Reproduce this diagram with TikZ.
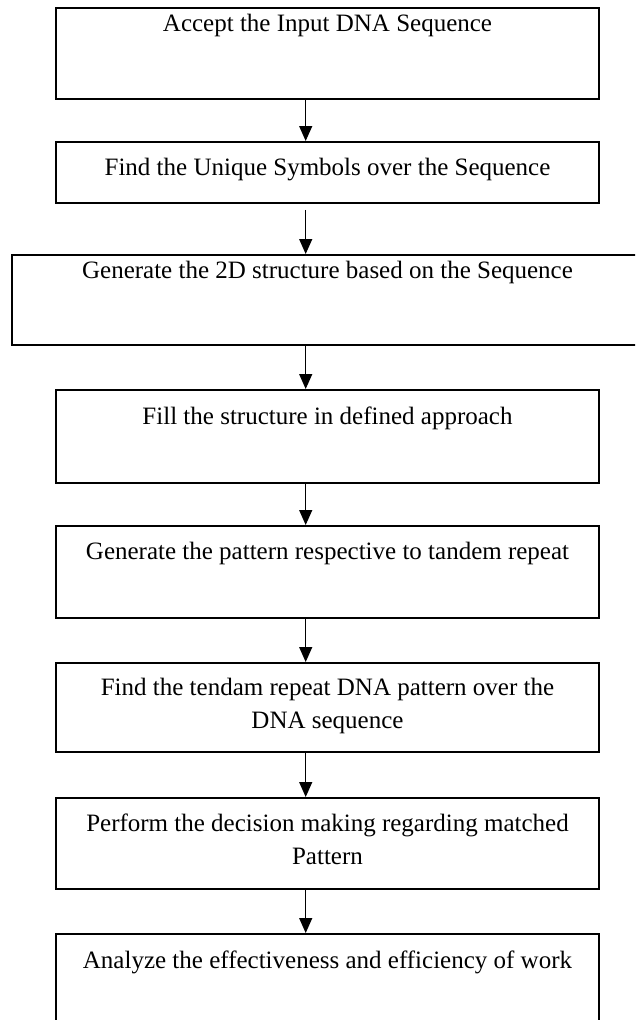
\documentclass[tikz,border=0pt]{standalone}
\usepackage{fontspec}
\setmainfont{Liberation Serif}
\usetikzlibrary{arrows.meta}
\begin{document}
\begin{tikzpicture}[x=1pt, y=-1pt,
  stepbox/.style={draw=black, line width=1.8pt, fill=none, inner sep=0pt, anchor=north},
  steptext/.style={font=\fontsize{25}{33}\selectfont, align=center, inner sep=0pt, anchor=base},
  flow/.style={line width=1.2pt, -{Triangle[length=15pt, width=13pt]}}]
  \useasboundingbox (0,0) rectangle (635,1020);
  \clip (0,0) rectangle (635,1020);

  % process boxes
  \node[stepbox, minimum width=543pt, minimum height=91pt] (b1) at (327.5,7) {};
  \node[stepbox, minimum width=543pt, minimum height=61pt] (b2) at (327.5,141) {};
  \node[stepbox, minimum width=631pt, minimum height=90pt] (b3) at (327.5,254) {};
  \node[stepbox, minimum width=543pt, minimum height=93pt] (b4) at (327.5,389) {};
  \node[stepbox, minimum width=543pt, minimum height=92pt] (b5) at (327.5,525) {};
  \node[stepbox, minimum width=543pt, minimum height=89pt] (b6) at (327.5,662) {};
  \node[stepbox, minimum width=543pt, minimum height=91pt] (b7) at (327.5,797) {};
  \node[stepbox, minimum width=543pt, minimum height=110pt] (b8) at (327.5,933) {};

  % box captions (anchored on the baseline of their last line)
  \node[steptext] (t1) at ([yshift=-24pt]b1.north) {Accept the Input DNA Sequence};
  \node[steptext] (t2) at ([yshift=-34pt]b2.north) {Find the Unique Symbols over the Sequence};
  \node[steptext] (t3) at ([yshift=-24pt]b3.north) {Generate the 2D structure based on the Sequence};
  \node[steptext] (t4) at ([yshift=-35pt]b4.north) {Fill the structure in defined approach};
  \node[steptext] (t5) at ([yshift=-34pt]b5.north) {Generate the pattern respective to tandem repeat};
  \node[steptext] (t6) at ([yshift=-66pt]b6.north) {Find the tendam repeat DNA pattern over the\\DNA sequence};
  \node[steptext] (t7) at ([yshift=-67pt]b7.north) {Perform the decision making regarding matched\\Pattern};
  \node[steptext] (t8) at ([yshift=-35pt]b8.north) {Analyze the effectiveness and efficiency of work};

  % connectors
  \draw[flow] ([xshift=-21.8pt]b1.south) -- ([xshift=-21.8pt]b2.north);
  \draw[flow] ([xshift=-21.8pt, yshift=-6pt]b2.south) -- ([xshift=-21.8pt]b3.north);
  \draw[flow] ([xshift=-21.8pt]b3.south) -- ([xshift=-21.8pt]b4.north);
  \draw[flow] ([xshift=-21.8pt]b4.south) -- ([xshift=-21.8pt]b5.north);
  \draw[flow] ([xshift=-21.8pt]b5.south) -- ([xshift=-21.8pt]b6.north);
  \draw[flow] ([xshift=-21.8pt]b6.south) -- ([xshift=-21.8pt]b7.north);
  \draw[flow] ([xshift=-21.8pt]b7.south) -- ([xshift=-21.8pt]b8.north);
\end{tikzpicture}
\end{document}
